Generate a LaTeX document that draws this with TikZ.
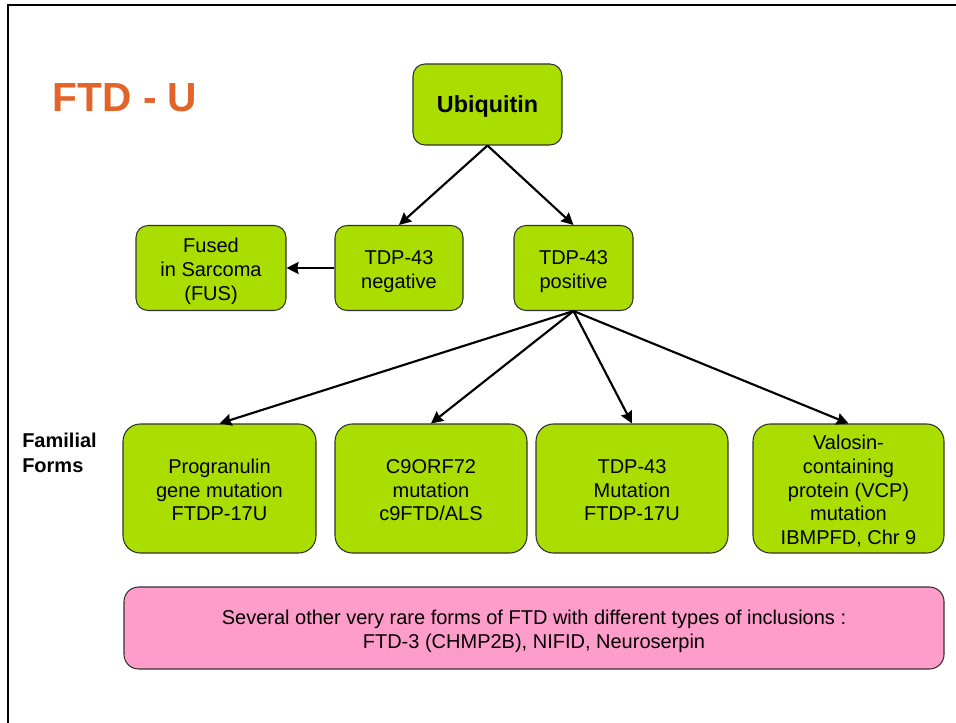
\documentclass[tikz,border=0pt]{standalone}
\usepackage{fontspec}
\setmainfont{Liberation Sans}
\usetikzlibrary{arrows.meta}

\definecolor{boxgreen}{RGB}{170,222,0}
\definecolor{boxpink}{RGB}{255,157,202}
\definecolor{titleorange}{RGB}{226,100,40}
\definecolor{edgegray}{RGB}{50,50,50}

% text block with fixed struts above the first and below the last line
\newcommand{\boxtext}[2][1.15em]{\rule{0pt}{#1}#2\rule[-0.3em]{0pt}{0pt}}

\tikzset{
  every node/.style={font=\fontsize{15pt}{17.8pt}\selectfont},
  greenbox/.style={draw=edgegray, line width=0.8pt, fill=boxgreen,
    align=center, inner sep=0pt},
  upperbox/.style={greenbox, rounded corners=9pt, minimum height=63.75pt},
  lowerbox/.style={greenbox, rounded corners=13pt, minimum width=144pt, minimum height=96.75pt},
  pinkbox/.style={draw=edgegray, line width=0.8pt, fill=boxpink, rounded corners=11pt,
    align=center, inner sep=0pt, minimum width=615pt, minimum height=61.5pt},
  link/.style={line width=1.6pt, -{Stealth[length=9pt,width=9pt,inset=1pt]}},
}

\begin{document}
\begin{tikzpicture}[x=0.75pt, y=-0.75pt]
  % page extent
  \useasboundingbox (0,0) rectangle (956,723);
  \fill[white] (0,0) rectangle (956,723);

  % frame (top and left edges)
  \draw[line width=1.8pt] (8,723) -- (8,5) -- (956,5);

  % title
  \node[font=\fontsize{30.5pt}{34pt}\selectfont\bfseries, text=titleorange] (title) at (125,98) {FTD - U};

  % top level
  \node[upperbox, font=\fontsize{17.5pt}{20pt}\selectfont\bfseries,
        minimum width=111.75pt, minimum height=60.75pt] (ubi) at (487.5,104.5) {\boxtext[1em]{Ubiquitin}};

  % second level
  \node[upperbox, minimum width=96pt]    (neg) at (399,268)   {\boxtext{TDP-43\\negative}};
  \node[upperbox, minimum width=89.25pt] (pos) at (573.5,268) {\boxtext{TDP-43\\positive}};
  \node[upperbox, minimum width=112.5pt] (fus) at (211,268)   {\boxtext{Fused\\in Sarcoma\\(FUS)}};

  % familial forms
  \node[font=\fontsize{15pt}{18.5pt}\selectfont\bfseries, align=left, anchor=west, inner sep=0pt]
        (fam) at (22,453) {Familial\\Forms};

  \node[lowerbox, minimum width=144.75pt] (prog) at (219.5,488.5) {\boxtext{Progranulin\\gene mutation\\FTDP-17U}};
  \node[lowerbox] (c9)   at (431,488.5)   {\boxtext{C9ORF72\\mutation\\c9FTD/ALS}};
  \node[lowerbox] (tdpm) at (632,488.5)   {\boxtext{TDP-43\\Mutation\\FTDP-17U}};
  \node[lowerbox, minimum width=143.25pt] (vcp) at (848.5,488.5)
        {\boxtext{Valosin-\\containing\\protein (VCP)\\mutation\\IBMPFD, Chr 9}};

  % rare forms
  \node[pinkbox] (rare) at (534,628)
        {\boxtext{Several other very rare forms of FTD with different types of inclusions :\\FTD-3 (CHMP2B), NIFID, Neuroserpin}};

  % connectors
  \draw[link] (ubi.south) -- (neg.north);
  \draw[link] (ubi.south) -- (pos.north);
  \draw[link] (neg.west) -- (fus.east);
  \draw[link] (pos.south) -- (prog.north);
  \draw[link] (pos.south) -- (c9.north);
  \draw[link] (pos.south) -- (tdpm.north);
  \draw[link] (pos.south) -- (vcp.north);
\end{tikzpicture}
\end{document}
